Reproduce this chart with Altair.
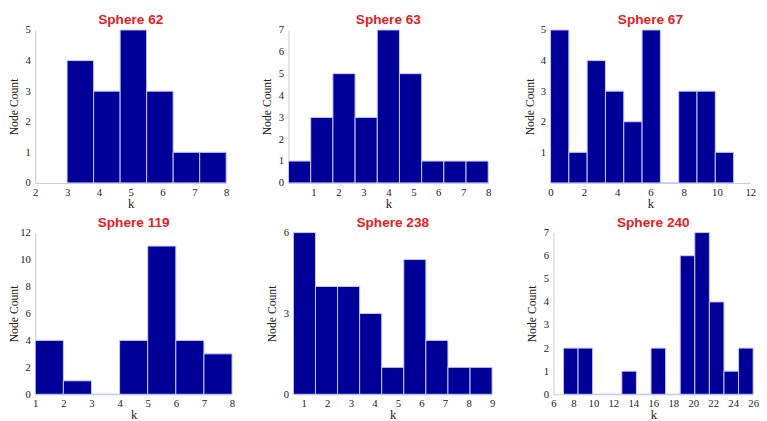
import altair as alt
import numpy as np
import pandas as pd

# ---- data ----
titles = ["Sphere 62", "Sphere 63", "Sphere 67", "Sphere 119", "Sphere 238", "Sphere 240"]

# histogram ranges (first bin start, last bin end) and counts per bin
bin_lo = [3, 0, 0, 1, 0.56, 7]
bin_hi = [8, 8, 11, 8, 9, 26]
counts = [
    [4, 3, 5, 3, 1, 1],
    [1, 3, 5, 3, 7, 5, 1, 1, 1],
    [5, 1, 4, 3, 2, 5, 0, 3, 3, 1],
    [4, 1, 0, 4, 11, 4, 3],
    [6, 4, 4, 3, 1, 5, 2, 1, 1],
    [2, 2, 0, 0, 1, 0, 2, 0, 6, 7, 4, 1, 2],
]

x_domains = [[2, 8], [0, 8], [0, 12], [1, 8], [0.56, 9], [6, 26]]
x_ticks = [
    [2, 3, 4, 5, 6, 7, 8],
    [1, 2, 3, 4, 5, 6, 7, 8],
    [0, 2, 4, 6, 8, 10, 12],
    [1, 2, 3, 4, 5, 6, 7, 8],
    [1, 2, 3, 4, 5, 6, 7, 8, 9],
    [6, 8, 10, 12, 14, 16, 18, 20, 22, 24, 26],
]
y_max = [5, 7, 5, 12, 6, 7]
y_ticks = [
    [0, 1, 2, 3, 4, 5],
    [0, 1, 2, 3, 4, 5, 6, 7],
    [1, 2, 3, 4, 5],
    [0, 2, 4, 6, 8, 10, 12],
    [0, 3, 6],
    [0, 1, 2, 3, 4, 5, 6, 7],
]

widths = [196, 205, 205, 202, 204, 205]
heights = [157, 157, 157, 166, 166, 166]

BAR = "#000099"
AXIS_GREY = "#c8c8c8"


def panel(i):
    edges = np.linspace(bin_lo[i], bin_hi[i], len(counts[i]) + 1)
    df = pd.DataFrame({
        "x0": edges[:-1],
        "x1": edges[1:],
        "count": counts[i],
    })
    xax = alt.Axis(
        values=x_ticks[i], title="k", grid=False, ticks=False,
        domainColor=AXIS_GREY, labelFlush=False, labelPadding=4,
        titlePadding=0, labelFont="Liberation Serif", titleFont="Liberation Serif",
        labelFontSize=11, titleFontSize=13, titleFontWeight="normal",
        labelColor="#222", titleColor="#222",
    )
    yax = alt.Axis(
        values=y_ticks[i], title="Node Count", grid=False, ticks=False,
        domainColor=AXIS_GREY, labelPadding=5, titlePadding=1,
        minExtent=14, maxExtent=14,
        labelFont="Liberation Serif", titleFont="Liberation Serif",
        labelFontSize=11, titleFontSize=12, titleFontWeight="normal",
        labelColor="#222", titleColor="#222",
    )
    return alt.Chart(df).mark_bar(
        color=BAR, stroke="#c8c8ff", strokeWidth=1
    ).encode(
        x=alt.X("x0:Q", scale=alt.Scale(domain=x_domains[i], nice=False, zero=False), axis=xax),
        x2="x1:Q",
        y=alt.Y("count:Q", scale=alt.Scale(domain=[0, y_max[i]], nice=False), axis=yax),
        y2=alt.datum(0),
    ).properties(
        width=widths[i], height=heights[i],
        title=alt.TitleParams(
            titles[i], font="Liberation Sans", fontSize=14, fontWeight="bold",
            color="#e8201e", offset=-3,
        ),
    )


row1 = alt.hconcat(panel(0), panel(1), panel(2), spacing=33)
row2 = alt.hconcat(panel(3), panel(4), panel(5), spacing=32)
chart = alt.vconcat(row1, row2, spacing=6).properties(
    padding=0, background="white"
).configure_view(stroke=None)

chart.save("out.html", embed_options={"renderer": "svg", "actions": False})
